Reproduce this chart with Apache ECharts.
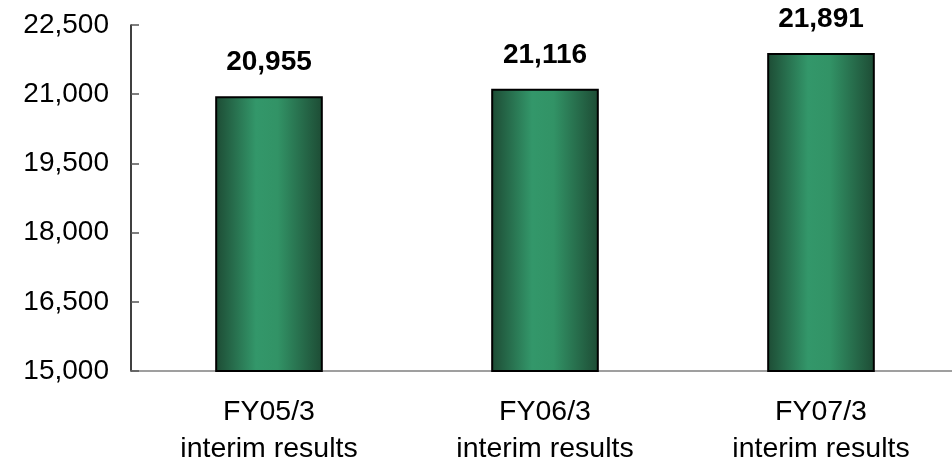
<!DOCTYPE html>
<html>
<head>
<meta charset="utf-8">
<script src="https://cdn.jsdelivr.net/npm/echarts@6/dist/echarts.min.js"></script>
<style>html,body{margin:0;padding:0;background:#fff;}#c{width:952px;height:464px;}</style>
</head>
<body>
<div id="c"></div>
<script>
var categories = ["FY05/3\ninterim results", "FY06/3\ninterim results", "FY07/3\ninterim results"];
var values = [20955, 21116, 21891];
var yMin = 15000, yMax = 22500, yStep = 1500;

function fmt(v){ return String(v).replace(/\B(?=(\d{3})+(?!\d))/g, ","); }

var chart = echarts.init(document.getElementById('c'), null, {renderer:'canvas'});
chart.setOption({
  animation: false,
  backgroundColor: '#ffffff',
  textStyle: {fontFamily: 'Liberation Sans, Arial, sans-serif'},
  grid: {left: 131, right: -7, top: 25, bottom: 93, containLabel: false, outerBoundsMode: 'none'},
  xAxis: {
    type: 'category',
    data: categories,
    axisLine: {lineStyle: {color: '#808080', width: 1.5}},
    axisTick: {inside: true, length: 9, lineStyle: {color: '#222', width: 1.5}},
    axisLabel: {color: '#000', fontSize: 28.5, lineHeight: 37, margin: 23, fontFamily: 'Liberation Sans, Arial, sans-serif'}
  },
  yAxis: {
    type: 'value',
    min: yMin, max: yMax, interval: yStep,
    axisLine: {show: true, lineStyle: {color: '#000', width: 1.5}},
    axisTick: {show: true, inside: true, length: 8, lineStyle: {color: '#555', width: 1.5}},
    splitLine: {show: false},
    axisLabel: {color: '#000', fontSize: 28, margin: 22, formatter: function(v){return fmt(v);}, fontFamily: 'Liberation Sans, Arial, sans-serif'}
  },
  series: [{
    type: 'bar',
    data: values,
    barWidth: '39%',
    itemStyle: {
      borderColor: '#000', borderWidth: 2,
      color: new echarts.graphic.LinearGradient(0, 0, 1, 0, [
        {offset: 0, color: '#1d4b34'},
        {offset: 0.38, color: '#33976a'},
        {offset: 0.58, color: '#329366'},
        {offset: 1, color: '#1d4b34'}
      ])
    },
    label: {
      show: true, position: 'top', distance: 20,
      color: '#000', fontSize: 28, fontWeight: 'bold',
      fontFamily: 'Liberation Sans, Arial, sans-serif',
      formatter: function(p){return fmt(p.value);}
    }
  }]
});
</script>
</body>
</html>
